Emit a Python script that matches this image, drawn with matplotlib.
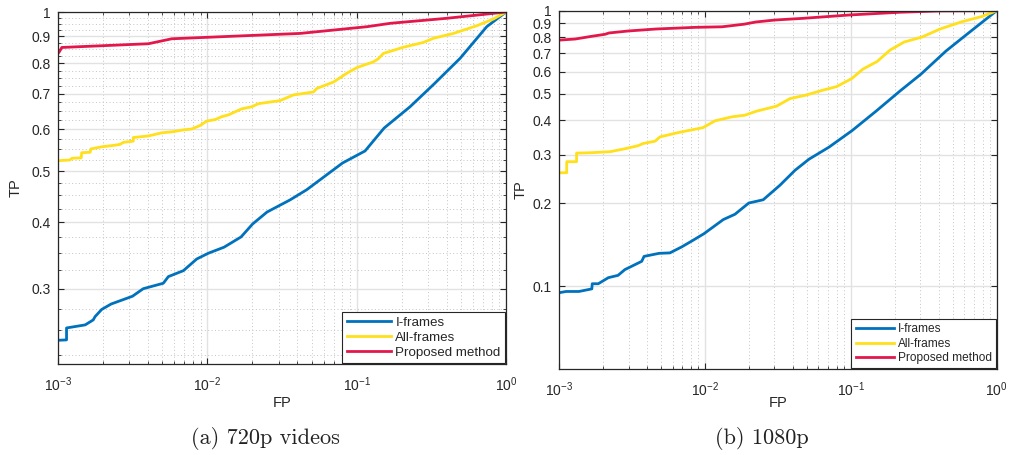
import numpy as np
import matplotlib
matplotlib.use('Agg')
import matplotlib.pyplot as plt
from matplotlib.ticker import FixedLocator, FixedFormatter, LogLocator, NullFormatter, NullLocator

plt.rcParams['font.family'] = ['Liberation Sans', 'DejaVu Sans']
plt.rcParams['axes.unicode_minus'] = False

# ---------------- data: (a) 720p videos ----------------
iframes_720_fp = [0.00100, 0.00114, 0.00114, 0.00152, 0.00172, 0.00177, 0.00196, 0.00227, 0.00315,
                  0.00372, 0.00507, 0.00548, 0.00691, 0.00849, 0.01016, 0.01294, 0.01682, 0.0201,
                  0.0251, 0.0358, 0.0463, 0.0805, 0.1138, 0.1527, 0.228, 0.330, 0.493, 0.743, 1.0]
iframes_720_tp = [0.2395, 0.2399, 0.2527, 0.2561, 0.2617, 0.2655, 0.2739, 0.2805, 0.2901,
                  0.2998, 0.3070, 0.3160, 0.3243, 0.3412, 0.3499, 0.3592, 0.3756, 0.3974,
                  0.4186, 0.4413, 0.4613, 0.5183, 0.5461, 0.6034, 0.6622, 0.7311, 0.8175, 0.938, 1.0]

allframes_720_fp = [0.00100, 0.00120, 0.00124, 0.00143, 0.00144, 0.00164, 0.00166, 0.00196, 0.00241,
                    0.00260, 0.00274, 0.00319, 0.00319, 0.00403, 0.00495, 0.00592, 0.00674, 0.00786,
                    0.00893, 0.00991, 0.01127, 0.01248, 0.01383, 0.01699, 0.01982, 0.0220, 0.0256,
                    0.0307, 0.0377, 0.0513, 0.0541, 0.0698, 0.0859, 0.1002, 0.1294, 0.139, 0.151,
                    0.206, 0.280, 0.327, 0.445, 0.637, 0.824, 1.0]
allframes_720_tp = [0.5235, 0.525, 0.529, 0.530, 0.542, 0.543, 0.551, 0.556, 0.560,
                    0.562, 0.567, 0.570, 0.579, 0.583, 0.591, 0.594, 0.598, 0.601,
                    0.610, 0.622, 0.626, 0.634, 0.639, 0.656, 0.662, 0.671, 0.675,
                    0.680, 0.697, 0.706, 0.717, 0.737, 0.766, 0.785, 0.805, 0.815, 0.835,
                    0.858, 0.876, 0.892, 0.911, 0.942, 0.970, 1.0]

proposed_720_fp = [0.00100, 0.00102, 0.00106, 0.00403, 0.00578, 0.0418, 0.117, 0.168, 0.401, 1.0]
proposed_720_tp = [0.835, 0.841, 0.857, 0.871, 0.890, 0.911, 0.938, 0.952, 0.973, 1.0]

# ---------------- data: (b) 1080p ----------------
iframes_1080_fp = [0.00100, 0.00112, 0.00137, 0.00168, 0.00169, 0.00186, 0.00218, 0.00254, 0.00283,
                   0.00369, 0.00383, 0.00485, 0.00576, 0.00694, 0.00812, 0.00986, 0.01337, 0.01607,
                   0.0200, 0.0251, 0.0327, 0.0415, 0.0517, 0.0708, 0.1019, 0.149, 0.217, 0.303,
                   0.449, 0.616, 1.0]
iframes_1080_tp = [0.0946, 0.0956, 0.0956, 0.0977, 0.1020, 0.1020, 0.1073, 0.1094, 0.1148,
                   0.1230, 0.1282, 0.1315, 0.1320, 0.1388, 0.1457, 0.1550, 0.1744, 0.1823,
                   0.2003, 0.2058, 0.2324, 0.2634, 0.2889, 0.3194, 0.3667, 0.4317, 0.5105, 0.5886,
                   0.7136, 0.816, 1.0]

allframes_1080_fp = [0.00100, 0.00113, 0.00113, 0.00132, 0.00132, 0.00166, 0.00224, 0.00283, 0.00348,
                     0.00377, 0.00455, 0.00492, 0.00641, 0.00791, 0.00970, 0.01172, 0.01527, 0.01883,
                     0.0226, 0.0310, 0.0383, 0.0493, 0.0645, 0.0799, 0.1018, 0.1212, 0.1513, 0.186,
                     0.232, 0.308, 0.409, 0.578, 0.793, 1.0]
allframes_1080_tp = [0.258, 0.258, 0.283, 0.283, 0.304, 0.305, 0.3076, 0.3153, 0.3234,
                     0.3294, 0.3358, 0.3481, 0.3599, 0.3682, 0.3760, 0.3981, 0.4116, 0.4175,
                     0.4317, 0.4502, 0.4795, 0.4937, 0.5147, 0.5300, 0.5676, 0.6138, 0.6535, 0.7196,
                     0.7694, 0.8024, 0.858, 0.912, 0.953, 1.0]

proposed_1080_fp = [0.00100, 0.00129, 0.00167, 0.00207, 0.00220, 0.00299, 0.00462, 0.00855, 0.0131,
                    0.0185, 0.0224, 0.0302, 0.0470, 0.0986, 0.217, 0.409, 1.0]
proposed_1080_tp = [0.782, 0.789, 0.807, 0.821, 0.830, 0.844, 0.858, 0.870, 0.874,
                    0.893, 0.910, 0.925, 0.938, 0.965, 0.987, 0.998, 1.0]

series_names = ['I-frames', 'All-frames', 'Proposed method']
colors = ['#0072BD', '#FFE01B', '#E3174B']

x_ticks = [1e-3, 1e-2, 1e-1, 1]
x_labels = [r'$\mathdefault{10^{-3}}$', r'$\mathdefault{10^{-2}}$', r'$\mathdefault{10^{-1}}$', r'$\mathdefault{10^{0}}$']

y_ticks_720 = [0.3, 0.4, 0.5, 0.6, 0.7, 0.8, 0.9, 1.0]
y_labels_720 = ['0.3', '0.4', '0.5', '0.6', '0.7', '0.8', '0.9', '1']
y_ticks_1080 = [0.1, 0.2, 0.3, 0.4, 0.5, 0.6, 0.7, 0.8, 0.9, 1.0]
y_labels_1080 = ['0.1', '0.2', '0.3', '0.4', '0.5', '0.6', '0.7', '0.8', '0.9', '1']

fig = plt.figure(figsize=(10.13, 4.55), dpi=100)
ax1 = fig.add_axes([0.0573, 0.2, 0.4422, 0.7736])
ax2 = fig.add_axes([0.5518, 0.189, 0.4321, 0.7875])

TXT = '#262626'


def style(ax, ylim, yticks, ylabels, yminor, fs_tick, fs_lab):
    ax.set_xscale('log')
    ax.set_yscale('log')
    ax.set_xlim(1e-3, 1)
    ax.set_ylim(*ylim)
    ax.xaxis.set_major_locator(FixedLocator(x_ticks))
    ax.xaxis.set_major_formatter(FixedFormatter(x_labels))
    ax.xaxis.set_minor_locator(LogLocator(base=10, subs=np.arange(2, 10), numticks=20))
    ax.xaxis.set_minor_formatter(NullFormatter())
    ax.yaxis.set_major_locator(FixedLocator(yticks))
    ax.yaxis.set_major_formatter(FixedFormatter(ylabels))
    if yminor is not None:
        ax.yaxis.set_minor_locator(FixedLocator(yminor))
    else:
        ax.yaxis.set_minor_locator(NullLocator())
    ax.yaxis.set_minor_formatter(NullFormatter())
    ax.grid(True, which='major', color='#E2E2E2', lw=1.0, ls='-')
    ax.grid(True, which='minor', color='#C4C4C4', lw=0.7, ls=(0, (1, 2.5)))
    ax.set_axisbelow(True)
    ax.tick_params(which='both', direction='in', top=True, right=True, colors=TXT,
                   labelcolor=TXT, labelsize=fs_tick)
    ax.tick_params(which='major', length=4, width=0.8)
    ax.tick_params(axis='y', which='major', pad=5)
    ax.tick_params(axis='x', which='major', pad=8)
    ax.tick_params(which='minor', length=2, width=0.6)
    for s in ax.spines.values():
        s.set_color(TXT)
        s.set_linewidth(0.9)
    ax.set_xlabel('FP', fontsize=fs_lab, color=TXT)
    ax.set_ylabel('TP', fontsize=fs_lab, color=TXT)


minor_720 = [v for v in np.round(np.arange(0.225, 1.0, 0.025), 3) if abs(v * 10 - round(v * 10)) > 1e-6]
style(ax1, (0.216, 1.0), y_ticks_720, y_labels_720, minor_720, 10, 10.5)
style(ax2, (0.05, 1.0), y_ticks_1080, y_labels_1080, None, 10, 10.5)

for ax, data in [(ax1, [(iframes_720_fp, iframes_720_tp), (allframes_720_fp, allframes_720_tp),
                        (proposed_720_fp, proposed_720_tp)]),
                 (ax2, [(iframes_1080_fp, iframes_1080_tp), (allframes_1080_fp, allframes_1080_tp),
                        (proposed_1080_fp, proposed_1080_tp)])]:
    for (xv, yv), name, c in zip(data, series_names, colors):
        ax.plot(xv, yv, color=c, lw=2.0, label=name, solid_joinstyle='round')

ax1.xaxis.set_label_coords(0.5, -0.091)
ax1.yaxis.set_label_coords(-0.078, 0.5)
ax2.xaxis.set_label_coords(0.5, -0.075)
ax2.yaxis.set_label_coords(-0.071, 0.5)

for ax, fs, hl in [(ax1, 9.6, 3.3), (ax2, 8.6, 3.2)]:
    leg = ax.legend(loc='lower right', fontsize=fs, frameon=True, fancybox=False, framealpha=1,
                    edgecolor=TXT, borderaxespad=0.05, borderpad=0.35, labelspacing=0.2,
                    handlelength=hl, handletextpad=0.35)
    leg.get_frame().set_linewidth(0.8)
    for t in leg.get_texts():
        t.set_color(TXT)

fig.text(265 / 1013, 1 - 439 / 455, '(a) 720p videos', family='cmr10', fontsize=16,
         ha='center', va='center', color='#222222')
fig.text(762 / 1013, 1 - 439 / 455, '(b) 1080p', family='cmr10', fontsize=16,
         ha='center', va='center', color='#222222')

fig.savefig('out.png', dpi=100)
